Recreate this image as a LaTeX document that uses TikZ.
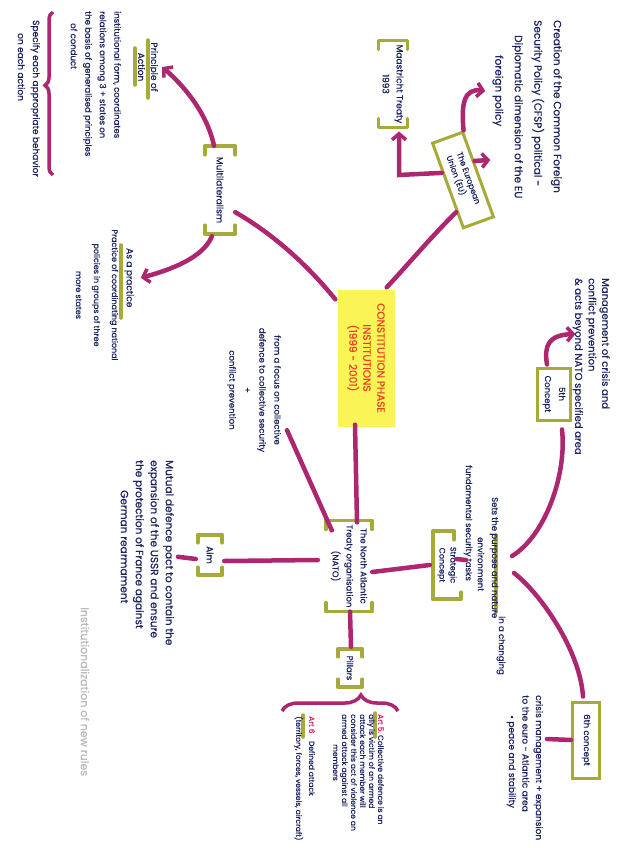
\documentclass[tikz,border=0pt]{standalone}
\usepackage{fontspec}
\setmainfont{Poppins}[FakeBold=0.5]
\usetikzlibrary{calc,arrows.meta,decorations.pathreplacing}
\definecolor{penMagenta}{RGB}{172,38,112}
\definecolor{penGreen}{RGB}{166,170,56}
\definecolor{inkNavy}{RGB}{26,34,96}
\definecolor{hiYellow}{RGB}{250,244,86}
\definecolor{capsRed}{RGB}{232,62,40}
\definecolor{artRed}{RGB}{226,36,96}
\tikzset{
  handtext/.style={text=inkNavy, rotate=-90, inner sep=0pt},
  greenline/.style={draw=penGreen, line width=3.5pt, line cap=round, line join=round},
  penline/.style={draw=penMagenta, line width=4.5pt, line cap=round},
  penarrow/.style={penline, -{Straight Barb[length=6pt,width=14pt,line width=3.5pt]}},
  penbrace/.style={draw=penMagenta, line width=3.5pt, decorate}
}
\newcommand{\CapBrackets}[2]{%
  \draw[greenline] ($(#1.south west)+(-#2,5)$) -- ($(#1.south west)+(-#2,-#2)$) -- ($(#1.north west)+(#2,-#2)$) -- ($(#1.north west)+(#2,5)$);
  \draw[greenline] ($(#1.south east)+(-#2,-5)$) -- ($(#1.south east)+(-#2,#2)$) -- ($(#1.north east)+(#2,#2)$) -- ($(#1.north east)+(#2,-5)$);}

\begin{document}
\begin{tikzpicture}[x=1pt,y=-1pt]
\useasboundingbox (0,0) rectangle (636,848);
\fill[white] (0,0) rectangle (636,848);

\node[rotate=-90, fill=hiYellow, text=capsRed, minimum width=137pt, minimum height=57pt, align=center, font=\fontsize{10.5}{14}\selectfont] (core) at (366,358) {CONSTITUTION PHASE\\INSTITUTIONS\\(1999 - 2001)};

\node[rotate=-70, draw=penGreen, line width=3pt, minimum width=90pt, minimum height=32pt, text=inkNavy, align=left, font=\fontsize{8}{11}\selectfont] (eu) at (463,180) {The European\\Union (EU)};
\node[handtext, align=center, font=\fontsize{9}{14}\selectfont] (mt) at (393,84) {Maastricht Treaty\\1993};
\CapBrackets{mt}{4}
\node[handtext, anchor=north west, align=left, font=\fontsize{10.5}{19.5}\selectfont] (cfsp) at (562,20) {Creation of the Common Foreign\\Security Policy (CFSP) political -\\\hspace*{15pt}Diplomatic dimension of the EU\\\hspace*{35pt}foreign policy};

\draw[penline] ($(core.north west)+(-8,-2)$) .. controls (405,268) and (430,238) .. ($(eu.south)!0.6!(eu.south east)$);
\draw[penarrow] ($(eu.south)!0.3!(eu.south west)$) -- (399,175) -- ($(mt.east)+(6,8)$);
\draw[penarrow] (eu.north west) .. controls (461,104) and (464,88) .. ($(cfsp.south west)+(-7,71)$);
\draw[penarrow] ($(eu.north)!0.3!(eu.north west)$) -- ($(cfsp.south west)+(-2,140)$);

\node[handtext, font=\fontsize{9}{12}\selectfont, minimum width=80pt, minimum height=22pt] (mult) at (220,190) {Multilateralism};
\CapBrackets{mult}{4}
\node[handtext, align=center, font=\fontsize{9}{13}\selectfont] (prin) at (148,67) {Principle of\\Action};
\draw[greenline] (148,40) -- (148,98);
\draw[greenline] (135,48) -- (135,85);
\draw[penarrow] ($(mult.west)+(-6,-4)$) .. controls (207,112) and (182,84) .. ($(prin.north)+(4,0)$);

\draw[greenline] (121,245) -- (121,318);
\node[handtext, anchor=west, font=\fontsize{9}{11}\selectfont] (prac) at (129,248) {As a practice};
\draw[penarrow] ($(mult.east)+(-8,6)$) .. controls (203,258) and (170,270) .. ($(prac.north)+(7,0)$);
\node[handtext, align=center, font=\fontsize{8}{18}\selectfont] (coord) at (97,295) {Practice of coordinating national\\policies in groups of three\\more states};

\node[handtext, anchor=north west, align=left, font=\fontsize{8.5}{14.5}\selectfont] (inst) at (121,11) {institutional form, coordinates\\relations among 3 + states on\\the basis of generalised principles\\\hspace*{12pt}of conduct};
\draw[penbrace, decoration={brace, amplitude=8pt, aspect=0.55}] (53,175) -- (53,12);
\node[handtext, anchor=north west, align=left, font=\fontsize{9}{15}\selectfont] (spec) at (40,20) {Specify each appropriate behavior\\\hspace*{13pt}on each action};

\draw[penline] ($(mult.north east)+(4,-18)$) .. controls (270,232) and (305,262) .. ($(core.south west)+(-2,10)$);

\node[handtext, align=center, font=\fontsize{8.5}{15}\selectfont] (focus) at (254,390) {from a focus on collective\\defence to collective security\\+\\conflict prevention};

\node[handtext, align=center, font=\fontsize{8.5}{14}\selectfont, minimum height=38pt] (nato) at (349,566) {The North Atlantic\\Treaty organisation\\(NATO)};
\CapBrackets{nato}{4}
\draw[penline] ($(core.east)+(-11,-2)$) -- ($(nato.west)+(8,-2)$);
\draw[penline] ($(focus.north east)+(6,-22)$) -- ($(nato.south west)+(2,6)$);

\node[handtext, font=\fontsize{9}{11}\selectfont, minimum height=18pt, minimum width=34pt] (aim) at (210,555) {Aim};
\CapBrackets{aim}{3}
\node[handtext, anchor=north west, align=left, font=\fontsize{10.5}{15}\selectfont] (mutual) at (174,460) {Mutual defence pact to contain the\\expansion of the USSR and ensure\\the protection of France against\\\hspace*{30pt}German rearmament};
\draw[penline] ($(nato.south)+(-12,-6)$) -- ($(aim.north)+(5,6)$);
\draw[penline] ($(aim.south)+(-5,4)$) -- ($(mutual.north)+(4,4)$);

\node[handtext, font=\fontsize{8.5}{11}\selectfont, minimum height=18pt, minimum width=32pt] (pil) at (350,668) {Pillars};
\CapBrackets{pil}{3}
\draw[penline] ($(nato.east)+(1,4)$) -- ($(pil.west)+(1,-5)$);
\draw[penbrace, decoration={brace, amplitude=16pt, aspect=0.68}] (282,711) -- (398,711);

\draw[greenline] (375,713) -- (375,737);
\node[handtext, anchor=north west, align=left, font=\fontsize{7.5}{9}\selectfont] (art5) at (384,714) {\textcolor{artRed}{Art 5.}\ Collective defence is an\\ally is victim of an armed\\attack each member will\\consider this act of violence an\\armed attack against all\\\hspace*{30pt}members};
\draw[greenline] (303,715) -- (303,737);
\node[handtext, anchor=north west, align=left, font=\fontsize{7.5}{13}\selectfont] (art6) at (315,716) {\textcolor{artRed}{Art 6}\quad Defined attack\\(territory, forces, vessels, aircraft)};

\node[handtext, align=center, font=\fontsize{8}{11}\selectfont, minimum height=22pt, minimum width=60pt] (strat) at (447,565) {Strategic\\Concept};
\draw[greenline] ($(strat.north west)+(-4,5)$) -- ($(strat.north west)+(-4,-4)$) -- ($(strat.south west)+(-3,-4)$) -- ($(strat.south east)+(-3,4)$) -- ($(strat.north east)+(3,4)$) -- ($(strat.north east)+(3,-3)$);
\draw[penline] ($(nato.north)+(4,6)$) -- ($(strat.south)+(-6,0)$);

\draw[greenline] (496,535) -- (496,612);
\node[handtext, anchor=west, font=\fontsize{8.5}{11}\selectfont] (sets) at (494,497) {Sets the purpose and nature};
\node[handtext, anchor=west, font=\fontsize{8.5}{11}\selectfont] (chg) at (501,616) {in a changing};
\node[handtext, anchor=west, font=\fontsize{8.5}{11}\selectfont] (env) at (481,537) {environment};
\node[handtext, anchor=west, font=\fontsize{8.5}{11}\selectfont] (fund) at (468,465) {fundamental security tasks};
\coordinate (tasks) at (466,560);
\draw[penline] ($(strat.north)+(-2,-6)$) -- (tasks);

\node[handtext, draw=penGreen, line width=3pt, align=center, font=\fontsize{8.5}{14}\selectfont, minimum width=52pt, minimum height=33pt] (c5) at (554,394) {5th\\Concept};
\node[handtext, anchor=north west, align=left, font=\fontsize{10}{13.5}\selectfont] (mgmt) at (610,278) {Management of crisis and\\conflict prevention\\\& acts beyond NATO specified area};
\draw[penarrow] ($(c5.west)+(-7,-2)$) .. controls (544,346) and (548,335) .. ($(mgmt.south west)+(3,56)$);

\node[handtext, draw=penGreen, line width=3pt, font=\fontsize{8.5}{11}\selectfont, minimum width=76pt, minimum height=27pt] (c6) at (586,740) {6th concept};
\node[handtext, anchor=north west, align=left, font=\fontsize{9}{13.5}\selectfont] (crisis) at (543,695) {crisis management + expansion\\to the euro - Atlantic area\\\hspace*{20pt}• peace and stability};
\draw[penline] (c6.south) -- ($(crisis.north west)+(4,44)$);

\coordinate (fork5) at (512,556);
\coordinate (fork6) at (514,573);
\draw[penline] (fork5) .. controls (545,536) and (567,475) .. ($(c5.east)+(8,8)$);
\draw[penline] (fork6) .. controls (540,593) and (580,650) .. ($(c6.west)+(-3,-4)$);

\node[handtext, text=gray!55, anchor=west, font=\fontsize{11}{13}\selectfont] (rules) at (85,607) {Institutionalization of new rules};
\end{tikzpicture}
\end{document}
